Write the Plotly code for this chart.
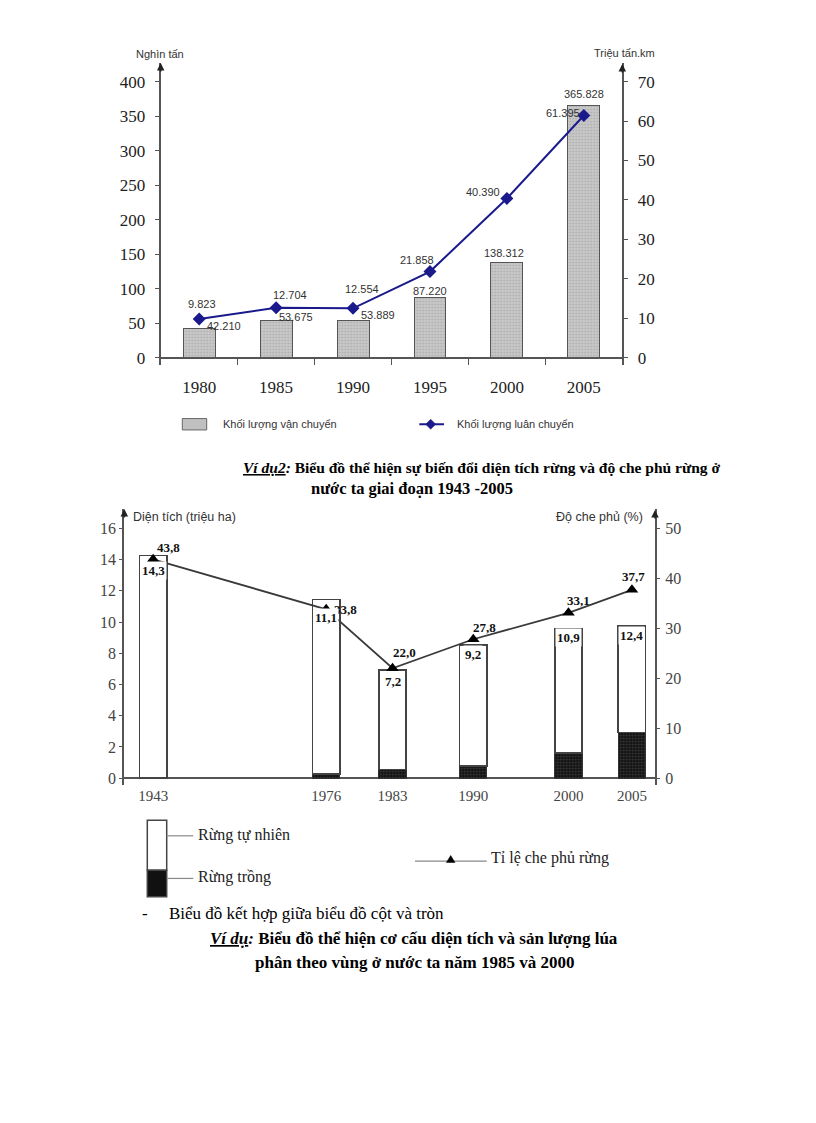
import plotly.graph_objects as go

# ---------------- data ----------------
# Chart 1
years1 = ["1980", "1985", "1990", "1995", "2000", "2005"]
van_chuyen = [42.210, 53.675, 53.889, 87.220, 138.312, 365.828]      # nghìn tấn (bars)
luan_chuyen = [9.823, 12.704, 12.554, 21.858, 40.390, 61.395]        # triệu tấn.km (line)
y1_ticks = [0, 50, 100, 150, 200, 250, 300, 350, 400]
y2_ticks = [0, 10, 20, 30, 40, 50, 60, 70]

# Chart 2
years2 = ["1943", "1976", "1983", "1990", "2000", "2005"]
rung_trong = [0.0, 0.27, 0.56, 0.78, 1.61, 2.91]           # drawn heights (triệu ha)
rung_tu_nhien = [14.25, 11.16, 6.38, 7.76, 7.95, 6.82]     # drawn heights (triệu ha)
tong_dien_tich = [14.3, 11.1, 7.2, 9.2, 10.9, 12.4]        # printed totals
do_che_phu = [43.8, 33.8, 22.0, 27.8, 33.1, 37.7]          # %
y3_ticks = [0, 2, 4, 6, 8, 10, 12, 14, 16]
y4_ticks = [0, 10, 20, 30, 40, 50]

# ---------------- layout helpers ----------------
PAGE_W, PAGE_H = 816, 1123
OFF = 8                      # default body margin of the html page
W, H = PAGE_W - OFF, PAGE_H - OFF
def px(x):
    return (x - OFF) / W
def py(y):
    return 1 - (y - OFF) / H

# uneven slot positions of the years along chart 2's x axis
x_slot = [1.0, 7.0, 9.3, 12.1, 15.4, 17.6]

# chart 1 geometry (page pixels)
c1_left, c1_right, c1_top, c1_bottom = 160.7, 622.3, 63, 366
c1_zero = 358.5
k1 = (c1_zero - 81.7) / 400
k2 = (c1_zero - 81.7) / 70
# chart 2 geometry
c2_left, c2_right, c2_top, c2_bottom = 124.3, 655, 510, 786
c2_zero = 779.5
k3 = (c2_zero - 529.3) / 16
k4 = (c2_zero - 529.3) / 50

serif = "Liberation Serif"
sans = "Liberation Sans"
axis_col = "#555555"
navy = "#1a1a8c"

fig = go.Figure()

# ---- chart 1 traces ----
fig.add_trace(go.Bar(
    x=years1, y=van_chuyen, width=0.415, name="Khối lượng vận chuyển",
    marker=dict(color="#c0c0c0", line=dict(color="#555555", width=1),
                pattern=dict(shape=".", fgcolor="#888888", bgcolor="#c8c8c8", size=3, solidity=0.25)),
    xaxis="x", yaxis="y", showlegend=False))
fig.add_trace(go.Scatter(
    x=years1, y=luan_chuyen, mode="lines+markers", name="Khối lượng luân chuyển",
    line=dict(color=navy, width=2),
    marker=dict(symbol="diamond", size=10, color=navy),
    xaxis="x", yaxis="y2", showlegend=False))

# ---- chart 2 traces ----
fig.add_trace(go.Bar(
    x=x_slot, y=rung_trong, width=0.95, name="Rừng trồng",
    marker=dict(color="#111111", line=dict(color="#333333", width=1),
                pattern=dict(shape=".", fgcolor="#6a6a6a", bgcolor="#111111", size=3, solidity=0.3)),
    xaxis="x3", yaxis="y3", showlegend=False))
fig.add_trace(go.Bar(
    x=x_slot, y=rung_tu_nhien, width=0.95, name="Rừng tự nhiên",
    marker=dict(color="#ffffff", line=dict(color="#444444", width=1.6)),
    xaxis="x3", yaxis="y3", showlegend=False))
fig.add_trace(go.Scatter(
    x=x_slot, y=do_che_phu, mode="lines+markers", name="Tỉ lệ che phủ rừng",
    line=dict(color="#3a3a3a", width=1.8),
    marker=dict(symbol="triangle-up", size=11, color="#000000"),
    xaxis="x3", yaxis="y4", showlegend=False))

ann = []

# chart 1 labels (x given as category index)
line_shift = [(3, 15), (14, 13), (9, 19), (-13, 12), (-24, 6), (-21, 3)]
bar_shift = [(25, 3), (20, 4), (25, 6), (0, 7), (-3, 9), (0, 11)]
for i in range(len(years1)):
    dx, dy = line_shift[i]
    ann.append(dict(x=i, y=luan_chuyen[i], xref="x", yref="y2", text=f"{luan_chuyen[i]:.3f}",
                    showarrow=False, xshift=dx, yshift=dy,
                    font=dict(family=sans, size=11, color="#333333")))
    dx, dy = bar_shift[i]
    ann.append(dict(x=i, y=van_chuyen[i], xref="x", yref="y", text=f"{van_chuyen[i]:.3f}",
                    showarrow=False, xshift=dx, yshift=dy,
                    font=dict(family=sans, size=11, color="#333333")))

# chart 2 labels
cov_shift = [(15, 12), (19, 0), (12, 16), (11, 12), (10, 12), (2, 13)]
tot_shift = [(0, -15), (0, -18), (0, -12), (0, -10), (0, -9), (0, -9.5)]
for i in range(len(years2)):
    dx, dy = cov_shift[i]
    ann.append(dict(x=x_slot[i], y=do_che_phu[i], xref="x3", yref="y4",
                    text="<b>" + f"{do_che_phu[i]:.1f}".replace(".", ",") + "</b>",
                    showarrow=False, xshift=dx, yshift=dy,
                    font=dict(family=serif, size=13, color="#111111")))
    dx, dy = tot_shift[i]
    ann.append(dict(x=x_slot[i], y=rung_trong[i] + rung_tu_nhien[i], xref="x3", yref="y3",
                    text="<b>" + f"{tong_dien_tich[i]:.1f}".replace(".", ",") + "</b>",
                    showarrow=False, xshift=dx, yshift=dy, bgcolor="#ffffff",
                    font=dict(family=serif, size=13, color="#111111")))

def text(x, y, s, size, family=sans, anchor="left", color="#222222"):
    ann.append(dict(x=px(x), y=py(y), xref="paper", yref="paper", text=s, showarrow=False,
                    xanchor=anchor, yanchor="middle",
                    font=dict(family=family, size=size, color=color)))

# axis titles
text(159.5, 54, "Nghìn tấn", 11, anchor="center", color="#333333")
text(624, 53, "Triệu tấn.km", 11, anchor="center", color="#333333")
text(131, 518, "Diện tích (triệu ha)", 12.5, color="#333333")
text(645, 518, "Độ che phủ (%)", 12.5, anchor="right", color="#333333")

# axis arrows
for (ax_x, ax_y) in [(c1_left, c1_top), (c1_right, c1_top + 1), (c2_left, c2_top), (c2_right, c2_top + 1)]:
    ann.append(dict(x=px(ax_x), y=py(ax_y), xref="paper", yref="paper", ax=0, ay=10, text="",
                    showarrow=True, arrowhead=2, arrowsize=1, arrowwidth=1.5, arrowcolor="#222222"))

# chart 1 legend
text(220.7, 425, "Khối lượng vận chuyển", 11, color="#333333")
text(455, 425, "Khối lượng luân chuyển", 11, color="#333333")

# chart 2 legend texts
text(196, 836, "Rừng tự nhiên", 16, family=serif)
text(196, 878.5, "Rừng trồng", 16, family=serif)
text(489, 860, "Tỉ lệ che phủ rừng", 16, family=serif)

# page texts
text(241, 468, "<b><i><u>Ví dụ2</u>:</i> Biểu đồ thể hiện sự biến đổi diện tích rừng và độ che phủ rừng ở</b>",
     15.5, family=serif, color="#000000")
text(411.5, 489, "<b>nước ta giai đoạn 1943 -2005</b>", 16.5, family=serif, anchor="center", color="#000000")
text(145, 915, "-", 17, family=serif, anchor="center", color="#000000")
text(167, 915, "Biểu đồ kết hợp giữa biểu đồ cột và tròn", 17, family=serif, color="#000000")
text(208, 940, "<b><i><u>Ví dụ</u>:</i> Biểu đồ thể hiện cơ cấu diện tích và sản lượng lúa</b>",
     17, family=serif, color="#000000")
text(253, 964, "<b>phân theo vùng ở nước ta năm 1985 và 2000</b>", 17, family=serif, color="#000000")

# legend symbol shapes (paper coordinates)
def rect(x0, y0, x1, y1, fill, line, lw=1):
    return dict(type="rect", xref="paper", yref="paper", x0=px(x0), x1=px(x1), y0=py(y1), y1=py(y0),
                fillcolor=fill, line=dict(color=line, width=lw))
def seg(x0, y0, x1, y1, col, lw):
    return dict(type="line", xref="paper", yref="paper", x0=px(x0), x1=px(x1), y0=py(y0), y1=py(y1),
                line=dict(color=col, width=lw))
def poly(points, col):
    p = "M " + " L ".join(f"{px(a):.5f},{py(b):.5f}" for a, b in points) + " Z"
    return dict(type="path", xref="paper", yref="paper", path=p, fillcolor=col, line=dict(color=col, width=0.5))

shapes = [
    rect(182.3, 419.3, 206.7, 430.7, "#c0c0c0", "#666666"),
    seg(419.3, 425, 444, 425, navy, 2),
    poly([(430.7, 420), (435.7, 425), (430.7, 430), (425.7, 425)], navy),
    rect(147.3, 821.7, 166.7, 871.7, "#ffffff", "#444444", 1.5),
    rect(147.3, 871.7, 166.7, 898.3, "#111111", "#444444", 1.5),
    seg(166.7, 837.3, 193.3, 837.3, "#888888", 1.2),
    seg(166.7, 880, 193.3, 880, "#888888", 1.2),
    seg(415, 862.7, 486.7, 862.7, "#888888", 1.2),
    poly([(450.7, 857), (455, 864), (446.4, 864)], "#000000"),
]

tick_font1 = dict(family=serif, size=17, color="#222222")
tick_font2 = dict(family=serif, size=16, color="#444444")

fig.update_layout(
    width=W, height=H, autosize=False,
    margin=dict(l=0, r=0, t=0, b=0),
    paper_bgcolor="#ffffff", plot_bgcolor="rgba(0,0,0,0)",
    barmode="stack", showlegend=False,
    annotations=ann, shapes=shapes,
    xaxis=dict(domain=[px(c1_left), px(c1_right)], type="category", range=[-0.5, 5.5],
               anchor="y", showline=False, showgrid=False, zeroline=False,
               ticks="inside", tickson="boundaries", ticklen=7, tickcolor=axis_col, tickwidth=1,
               tickfont=tick_font1, ticklabelstandoff=10, fixedrange=True),
    yaxis=dict(domain=[py(c1_bottom), py(c1_top)],
               range=[-(c1_bottom - c1_zero) / k1, (c1_zero - c1_top) / k1],
               tickvals=y1_ticks, showgrid=False, zeroline=True, zerolinecolor=axis_col, zerolinewidth=2,
               showline=True, linecolor=axis_col, linewidth=2, ticks="outside", ticklen=4,
               tickcolor=axis_col, tickfont=tick_font1, ticklabelstandoff=6, anchor="x"),
    yaxis2=dict(overlaying="y", side="right", anchor="x",
                range=[-(c1_bottom - c1_zero) / k2, (c1_zero - c1_top) / k2],
                tickvals=y2_ticks, showgrid=False, zeroline=False,
                showline=True, linecolor=axis_col, linewidth=2, ticks="outside", ticklen=4,
                tickcolor=axis_col, tickfont=tick_font1, ticklabelstandoff=6),
    xaxis3=dict(domain=[px(c2_left), px(c2_right)], range=[0, 18.4], anchor="y3",
                tickvals=x_slot, ticktext=years2, showline=False, showgrid=False, zeroline=False,
                ticks="", tickfont=dict(family=serif, size=15, color="#444444")),
    yaxis3=dict(domain=[py(c2_bottom), py(c2_top)], anchor="x3",
                range=[-(c2_bottom - c2_zero) / k3, (c2_zero - c2_top) / k3],
                tickvals=y3_ticks, showgrid=False, zeroline=True, zerolinecolor=axis_col, zerolinewidth=2,
                showline=True, linecolor=axis_col, linewidth=2, ticks="outside", ticklen=3,
                tickcolor=axis_col, tickfont=tick_font2),
    yaxis4=dict(overlaying="y3", side="right", anchor="x3",
                range=[-(c2_bottom - c2_zero) / k4, (c2_zero - c2_top) / k4],
                tickvals=y4_ticks, showgrid=False, zeroline=False,
                showline=True, linecolor=axis_col, linewidth=2, ticks="outside", ticklen=3,
                tickcolor=axis_col, tickfont=tick_font2, ticklabelstandoff=2),
)

fig.write_html("out.html")
